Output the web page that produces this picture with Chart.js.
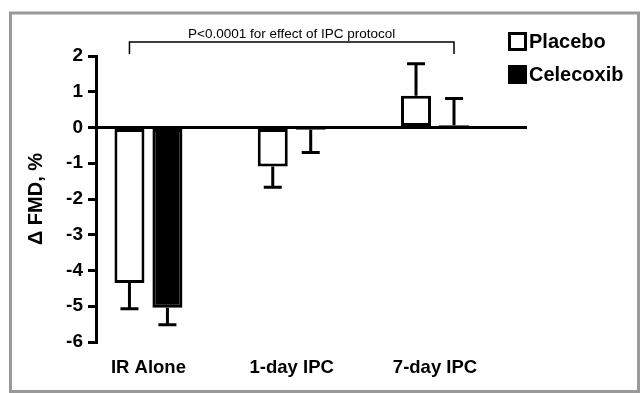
<!DOCTYPE html>
<html>
<head>
<meta charset="utf-8">
<script src="https://cdn.jsdelivr.net/npm/chart.js@4.4.1/dist/chart.umd.min.js"></script>
<style>
  html, body { margin: 0; padding: 0; background: #fff; }
  #wrap { position: relative; width: 641px; height: 393px; }
</style>
</head>
<body>
<div id="wrap"><canvas id="chart" width="641" height="393"></canvas></div>
<script>
// Datos
const categories = ['IR Alone', '1-day IPC', '7-day IPC'];
const placeboValues = [-4.35, -1.09, 0.89];
const placeboErrors = [0.72, 0.58, 0.89];
const celecoxibValues = [-5.04, -0.06, 0.06];
const celecoxibErrors = [0.48, 0.64, 0.75];
const yTicks = [2, 1, 0, -1, -2, -3, -4, -5, -6];
const annotationText = 'P<0.0001 for effect of IPC protocol';

const FONT = "'Liberation Sans', Arial, sans-serif";

function toPoints(values) {
    return values.map((v, i) => ({ x: i, y: v }));
}

// Barras de error (hacia fuera del cero) con su tapa
const errorBarsPlugin = {
    id: 'errorBars',
    afterDatasetsDraw(chart) {
        const ctx = chart.ctx;
        const yScale = chart.scales.y;
        chart.data.datasets.forEach((ds, i) => {
            const meta = chart.getDatasetMeta(i);
            meta.data.forEach((bar, j) => {
                const v = ds.data[j].y;
                const e = ds.errors[j];
                const end = v >= 0 ? v + e : v - e;
                const yEnd = yScale.getPixelForValue(end);
                ctx.save();
                ctx.strokeStyle = '#000';
                ctx.lineWidth = 3;
                ctx.beginPath();
                ctx.moveTo(bar.x, bar.y);
                ctx.lineTo(bar.x, yEnd);
                ctx.moveTo(bar.x - 9, yEnd);
                ctx.lineTo(bar.x + 9, yEnd);
                ctx.stroke();
                ctx.restore();
            });
        });
    }
};

// Marco gris, corchete con texto y leyenda
const decorPlugin = {
    id: 'decor',
    beforeDraw(chart) {
        const ctx = chart.ctx;
        ctx.save();
        ctx.fillStyle = '#fff';
        ctx.fillRect(0, 0, chart.width, chart.height);
        ctx.restore();
    },
    afterDraw(chart) {
        const ctx = chart.ctx;
        ctx.save();
        // marco
        ctx.strokeStyle = '#999';
        ctx.lineWidth = 3;
        ctx.strokeRect(10.5, 13, 628, 378.5);

        // corchete
        const first = chart.getDatasetMeta(0).data[0];
        const last = chart.getDatasetMeta(1).data[categories.length - 1];
        ctx.strokeStyle = '#000';
        ctx.lineWidth = 1.5;
        ctx.beginPath();
        ctx.moveTo(first.x, 54);
        ctx.lineTo(first.x, 42);
        ctx.lineTo(last.x, 42);
        ctx.lineTo(last.x, 54);
        ctx.stroke();
        ctx.fillStyle = '#000';
        ctx.font = '13.5px ' + FONT;
        ctx.textAlign = 'center';
        ctx.textBaseline = 'alphabetic';
        ctx.fillText(annotationText, (first.x + last.x) / 2, 38);

        // leyenda
        chart.data.datasets.forEach((ds, i) => {
            const top = 32 + i * 33;
            ctx.fillStyle = ds.backgroundColor;
            ctx.fillRect(508, top, 19, 19);
            ctx.strokeStyle = '#000';
            ctx.lineWidth = 3;
            ctx.strokeRect(509.5, top + 1.5, 16, 16);
            ctx.fillStyle = '#000';
            ctx.font = 'bold 20px ' + FONT;
            ctx.textAlign = 'left';
            ctx.textBaseline = 'middle';
            ctx.fillText(ds.label, 529, top + 10);
        });
        ctx.restore();
    }
};

const ctx = document.getElementById('chart').getContext('2d');
new Chart(ctx, {
    type: 'bar',
    data: {
        datasets: [{
            label: 'Placebo',
            data: toPoints(placeboValues),
            errors: placeboErrors,
            backgroundColor: '#fff',
            borderColor: '#000',
            borderWidth: 3,
            borderSkipped: false
        }, {
            label: 'Celecoxib',
            data: toPoints(celecoxibValues),
            errors: celecoxibErrors,
            backgroundColor: '#000',
            borderColor: '#000',
            borderWidth: 3,
            borderSkipped: false
        }]
    },
    options: {
        responsive: false,
        animation: false,
        barPercentage: 0.79,
        categoryPercentage: 0.53,
        layout: { padding: { left: 10, top: 56, right: 114, bottom: 0 } },
        plugins: {
            legend: { display: false },
            tooltip: { enabled: false }
        },
        scales: {
            x: {
                type: 'linear',
                offset: false,
                min: -0.366,
                max: 2.642,
                afterFit(scale) { scale.height = 51; },
                afterBuildTicks(scale) {
                    scale.ticks = categories.map((c, i) => ({ value: i }));
                },
                grid: { display: false, drawTicks: false },
                border: { display: false },
                ticks: {
                    autoSkip: false,
                    maxRotation: 0,
                    padding: 15,
                    color: '#000',
                    font: { family: FONT, size: 18.5, weight: 'bold' },
                    callback: (v) => categories[v]
                }
            },
            y: {
                min: -6,
                max: 2,
                afterFit(scale) { scale.width = 86; },
                afterBuildTicks(scale) {
                    scale.ticks = yTicks.map(v => ({ value: v }));
                },
                border: { display: true, color: '#000', width: 3 },
                grid: {
                    color: (c) => (c.tick && c.tick.value === 0) ? '#000' : 'rgba(0,0,0,0)',
                    tickColor: '#000',
                    tickLength: 8,
                    lineWidth: 3
                },
                ticks: {
                    padding: 5,
                    color: '#000',
                    font: { family: FONT, size: 19, weight: 'bold' }
                },
                title: {
                    display: true,
                    text: '\u0394 FMD, %',
                    color: '#000',
                    padding: { top: 14, bottom: 0 },
                    font: { family: FONT, size: 20, weight: 'bold' }
                }
            }
        }
    },
    plugins: [decorPlugin, errorBarsPlugin]
});
</script>
</body>
</html>
